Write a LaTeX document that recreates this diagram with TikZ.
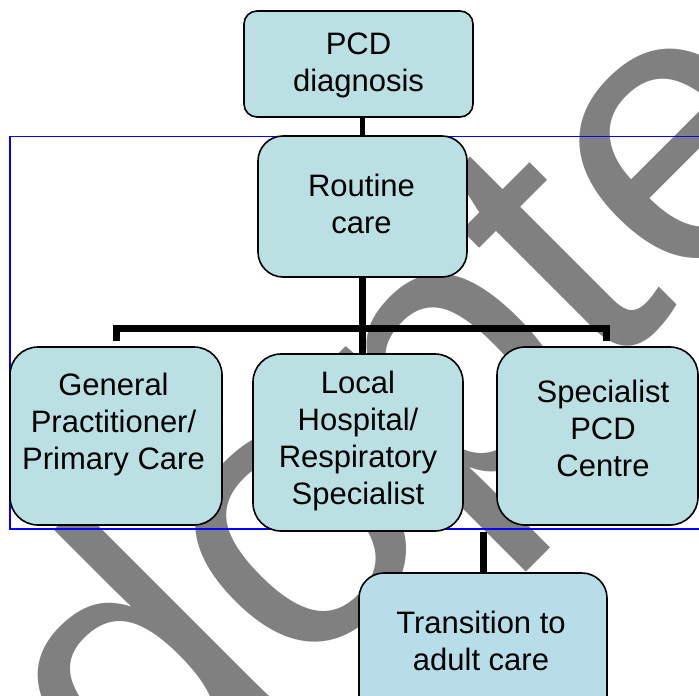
\documentclass[tikz,border=0pt]{standalone}
\usepackage{fontspec}
\setmainfont{Liberation Sans}
\usetikzlibrary{backgrounds}
\definecolor{boxfill}{RGB}{187,224,227}
\definecolor{transfill}{RGB}{183,222,232}
\definecolor{markgray}{RGB}{128,128,128}

\begin{document}
\begin{tikzpicture}[x=1pt,y=-1pt,
    chartbox/.style={draw=black, line width=1.6pt, fill=boxfill, inner sep=0pt},
    boxtext/.style={anchor=north, inner sep=0pt, align=center, font=\fontsize{31}{37}\selectfont},
    link/.style={draw=black, line width=7pt, line join=miter},
    watermark/.style={anchor=base west, inner sep=0pt, rotate=45, text=markgray, font=\fontsize{390}{400}\selectfont}]
  \useasboundingbox (0,0) rectangle (699,696);
  \clip (0,0) rectangle (699,696);
  % watermark and frame, behind everything
  \begin{pgfonlayer}{background}
  \node[watermark] (stamp) at (-9.6,993.6) {adopted};
  \draw[blue, line width=1.5pt] (10,136.5) rectangle (712,529);
  \end{pgfonlayer}

  % boxes
  \node[chartbox, rounded corners=13pt, minimum width=229pt, minimum height=106pt] (pcd) at (358.5,64) {};
  \node[chartbox, rounded corners=25pt, minimum width=209pt, minimum height=141pt] (routine) at (362.5,206.5) {};
  \node[chartbox, rounded corners=28pt, minimum width=212pt, minimum height=178pt] (gp) at (116,436) {};
  \node[chartbox, rounded corners=28pt, minimum width=210pt, minimum height=177pt] (local) at (358,442.5) {};
  \node[chartbox, rounded corners=28pt, minimum width=201pt, minimum height=178pt] (specialist) at (597.5,436) {};
  \node[chartbox, fill=transfill, rounded corners=25pt, minimum width=248pt, minimum height=160pt] (transition) at (483,653) {};

  % connectors, under the boxes
  \coordinate (barright) at (606,328.5);
  \begin{pgfonlayer}{background}
  \draw[link, line width=5pt] (routine.north |- pcd.south) -- (routine.north);
  \draw[link] (routine.south) -- (routine.south |- local.north);
  \draw[link] ([yshift=5pt]gp.north) |- (barright) -- ([yshift=5pt]specialist.north -| barright);
  \draw[link] (transition.north |- local.south) -- (transition.north);
  \end{pgfonlayer}

  % texts
  \node[boxtext] (pcdtext) at (358.5,33) {PCD\\diagnosis};
  \node[boxtext] (routinetext) at (361.5,174) {Routine\\care};
  \node[boxtext] (gptext) at (113.5,373) {General\\Practitioner/\\Primary Care};
  \node[boxtext] (localtext) at (358,371) {Local\\Hospital/\\Respiratory\\Specialist};
  \node[boxtext] (specialisttext) at (603,380) {Specialist\\PCD\\Centre};
  \node[boxtext] (transitiontext) at (481,611) {Transition to\\adult care};
\end{tikzpicture}
\end{document}
